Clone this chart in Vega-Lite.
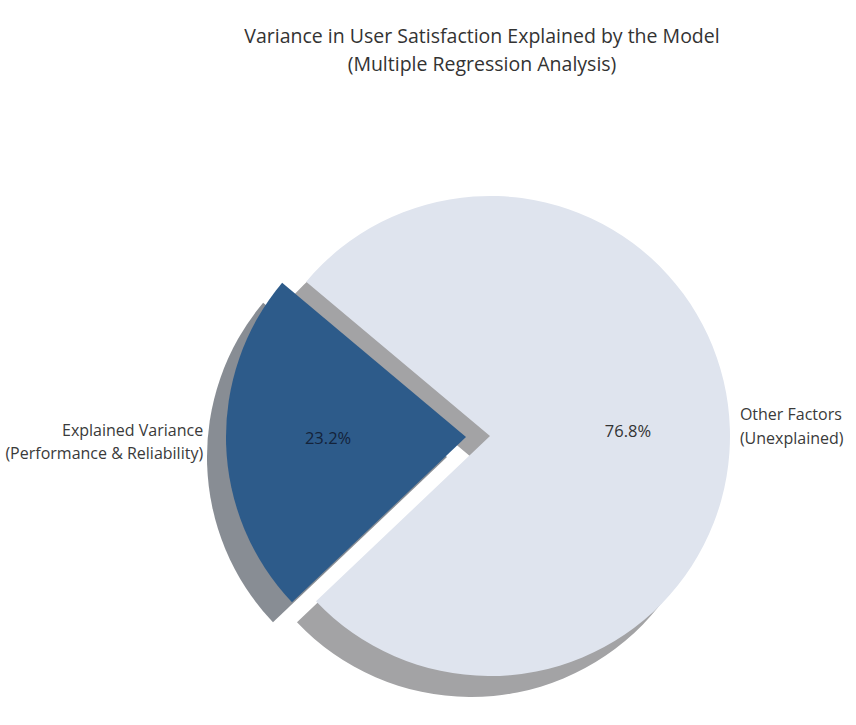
{
  "$schema": "https://vega.github.io/schema/vega-lite/v6.json",
  "width": 732,
  "height": 578,
  "autosize": {"type": "none"},
  "padding": {"left": 124, "top": 147, "right": 0, "bottom": 0},
  "background": "white",
  "config": {"view": {"stroke": null}},
  "title": {
    "text": ["Variance in User Satisfaction Explained by the Model", "(Multiple Regression Analysis)"],
    "font": "Open Sans",
    "fontSize": 19.5,
    "fontWeight": "normal",
    "color": "#333333",
    "lineHeight": 28,
    "anchor": "middle",
    "frame": "group",
    "dx": -8,
    "offset": 72
  },
  "data": {
    "values": [
      {"category": "Explained Variance\n(Performance & Reliability)", "value": 0.232},
      {"category": "Other Factors\n(Unexplained)", "value": 0.768}
    ]
  },
  "encoding": {
    "theta": {"field": "value", "type": "quantitative", "stack": true, "scale": {"domain": [0, 1], "range": [3.9528, 10.236]}},
    "order": {"field": "value", "type": "quantitative", "sort": "ascending"},
    "detail": {"field": "category"}
  },
  "layer": [
    {
      "mark": {"type": "arc", "outerRadius": 240, "xOffset": -43, "yOffset": 21},
      "encoding": {"color": {"condition": {"test": "datum.value < 0.5", "value": "#888d94"}, "value": "transparent"}}
    },
    {
      "mark": {"type": "arc", "outerRadius": 240, "xOffset": -19, "yOffset": 21},
      "encoding": {"color": {"condition": {"test": "datum.value > 0.5", "value": "#a3a3a5"}, "value": "transparent"}}
    },
    {
      "mark": {"type": "arc", "outerRadius": 240},
      "encoding": {"color": {"condition": {"test": "datum.value > 0.5", "value": "#dfe4ee"}, "value": "transparent"}}
    },
    {
      "mark": {"type": "arc", "outerRadius": 240, "xOffset": -24, "yOffset": 1},
      "encoding": {"color": {"condition": {"test": "datum.value < 0.5", "value": "#2d5b8a"}, "value": "transparent"}}
    },
    {
      "mark": {"type": "text", "radius": 263, "xOffset": -24, "yOffset": -13, "align": "right", "baseline": "middle", "lineBreak": "\n", "font": "Open Sans", "fontSize": 16, "lineHeight": 23, "color": "#3a3a3a"},
      "encoding": {
        "text": {"field": "category"},
        "opacity": {"condition": {"test": "datum.value < 0.5", "value": 1}, "value": 0}
      }
    },
    {
      "mark": {"type": "text", "radius": 250, "yOffset": -13, "align": "left", "baseline": "middle", "lineBreak": "\n", "font": "Open Sans", "fontSize": 16, "lineHeight": 24, "color": "#3a3a3a"},
      "encoding": {
        "text": {"field": "category"},
        "opacity": {"condition": {"test": "datum.value > 0.5", "value": 1}, "value": 0}
      }
    },
    {
      "mark": {"type": "text", "radius": 140, "xOffset": -22, "yOffset": -1, "align": "center", "baseline": "middle", "font": "Open Sans", "fontSize": 16.5, "color": "#14233a"},
      "encoding": {
        "text": {"field": "value", "type": "quantitative", "format": ".1%"},
        "opacity": {"condition": {"test": "datum.value < 0.5", "value": 1}, "value": 0}
      }
    },
    {
      "mark": {"type": "text", "radius": 138, "align": "center", "baseline": "middle", "font": "Open Sans", "fontSize": 16.5, "color": "#333333"},
      "encoding": {
        "text": {"field": "value", "type": "quantitative", "format": ".1%"},
        "opacity": {"condition": {"test": "datum.value > 0.5", "value": 1}, "value": 0}
      }
    }
  ]
}
